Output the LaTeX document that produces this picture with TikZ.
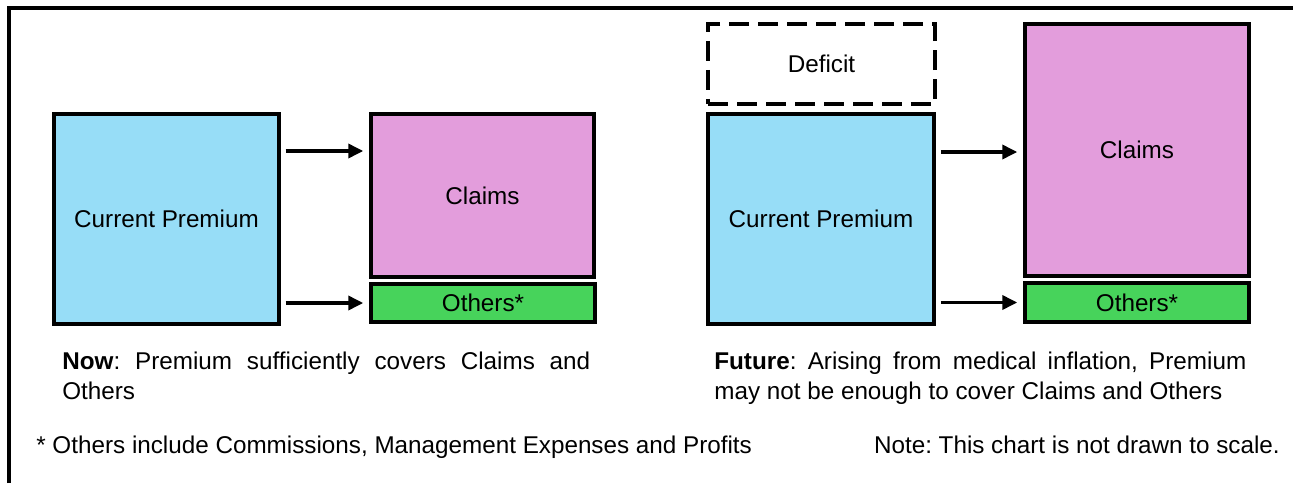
\documentclass[tikz,border=0pt]{standalone}
\usepackage{fontspec}
\setmainfont{Liberation Sans}
\usetikzlibrary{arrows.meta}
\frenchspacing

\definecolor{premblue}{RGB}{151,221,247}
\definecolor{claimpink}{RGB}{227,157,220}
\definecolor{othgreen}{RGB}{71,211,91}

\tikzset{
  box/.style={draw=black, line width=2pt, inner sep=0pt, font=\fontsize{13.8}{17}\selectfont},
  deficitbox/.style={draw=black, line width=2.4pt, dash pattern=on 0.4cm off 0.18cm, inner sep=0pt, font=\fontsize{13.8}{17}\selectfont},
  flow/.style={-{Triangle[length=0.3cm,width=0.28cm]}, line width=2pt, shorten <=0.1cm, shorten >=0.12cm},
  caption/.style={inner sep=0pt, anchor=north west, align=justify, font=\fontsize{13.8}{17}\selectfont,
    execute at begin node={\hyphenpenalty=10000\tolerance=9999\relax}},
  note/.style={inner sep=0pt, font=\fontsize{13.8}{17}\selectfont}
}

\begin{document}
\begin{tikzpicture}[x=0.02cm, y=0.02cm]
			\useasboundingbox (0,0) rectangle (1293,-483);
			% frame
			\draw [black, line width=2pt] (9,-483) -- (9,-8) -- (1293,-8);
			% now
			\node [box, fill=premblue, minimum width=4.5cm, minimum height=4.2cm] (premL) at (166.5,-219) {Current Premium};
			\node [box, fill=claimpink, minimum width=4.46cm, minimum height=3.26cm] (claimsL) at (482.5,-195.5) {Claims};
			\node [box, fill=othgreen, minimum width=4.48cm, minimum height=0.76cm] (othersL) at (483,-303) {Others*};
			\coordinate (upL) at (320,-151);
			\draw [flow] (premL.east |- upL) -- (claimsL.west |- upL);
			\draw [flow] (premL.east |- othersL) -- (othersL.west);
			% future
			\node [deficitbox, minimum width=4.54cm, minimum height=1.6cm] (deficit) at (821.5,-64) {Deficit};
			\node [box, fill=premblue, minimum width=4.52cm, minimum height=4.2cm] (premR) at (821,-219) {Current Premium};
			\node [box, fill=claimpink, minimum width=4.48cm, minimum height=5.04cm] (claimsR) at (1137,-150) {Claims};
			\node [box, fill=othgreen, minimum width=4.48cm, minimum height=0.78cm] (othersR) at (1137,-302.5) {Others*};
			\coordinate (upR) at (980,-152);
			\draw [flow] (premR.east |- upR) -- (claimsR.west |- upR);
			\draw [flow] (premR.east |- othersR) -- (othersR.west);
			% captions
			\node [caption, text width=10.56cm] (nowtext) at (62,-352) {\textbf{Now}: Premium sufficiently covers Claims and Others};
			\node [caption, text width=10.64cm] (futuretext) at (714,-352) {\textbf{Future}: Arising from medical inflation, Premium may not be enough to cover Claims and Others};
			\node [note, anchor=base west] (footnote) at (36,-453) {* Others include Commissions, Management Expenses and Profits};
			\node [note, anchor=base east] (scalenote) at (1280,-453) {Note: This chart is not drawn to scale.};
\end{tikzpicture}
\end{document}
